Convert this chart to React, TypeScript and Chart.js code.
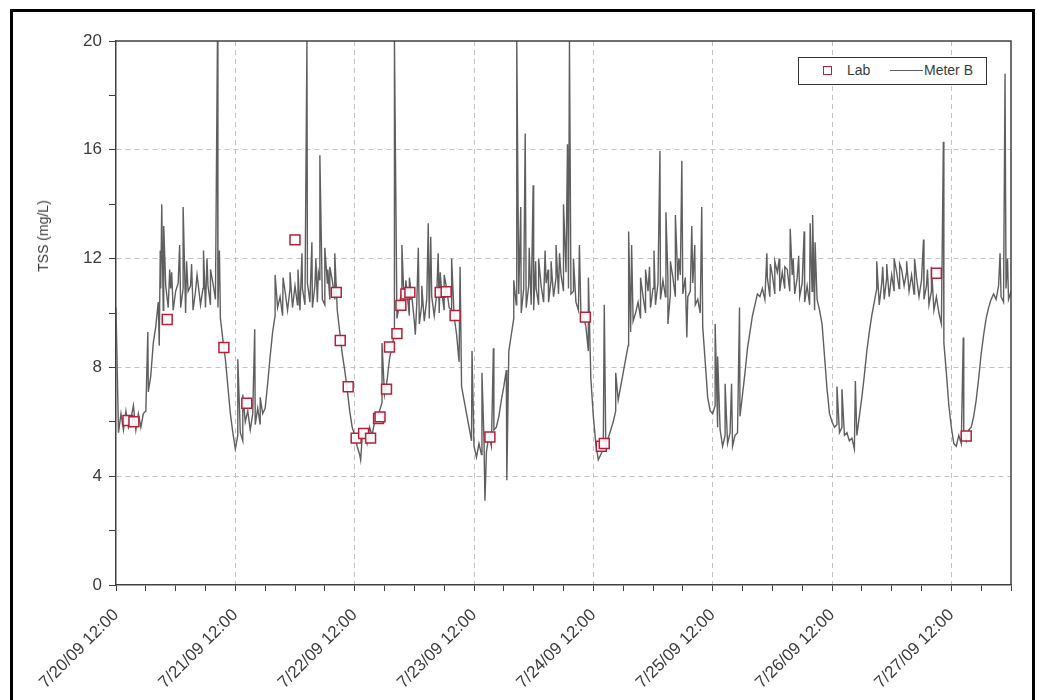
import React, { useEffect, useRef } from 'react';
import { Chart, registerables } from 'chart.js';

Chart.register(...registerables);

// X axis: hours since 7/20/09 12:00
const xTickLabels = [
  '7/20/09 12:00', '7/21/09 12:00', '7/22/09 12:00', '7/23/09 12:00',
  '7/24/09 12:00', '7/25/09 12:00', '7/26/09 12:00', '7/27/09 12:00',
];
const yTickLabels = ['0', '4', '8', '12', '16', '20'];

// Meter B readings every 30 minutes, one array per day (from 12:00)
const meterStepHours = 0.5;
const meterDay1 = [
  10.2, 5.6, 6.3, 5.7, 6.4, 5.8, 6.1, 6.6, 5.7, 6.3, 5.8, 6.3,
  6.4, 7.1, 7.7, 8.9, 9.5, 10.4,
  10.9, 10.1, 11.0, 10.2, 10.9, 10.1, 10.8, 11.1, 10.2, 10.9, 10.0, 10.8,
  11.0, 10.1, 10.8, 11.1, 10.3, 10.9, 10.2, 11.0, 10.3, 11.1, 10.5, 10.2,
  9.8, 9.0, 8.3, 7.3, 6.3, 5.6,
];
const meterDay2 = [
  5.0, 5.5, 5.6, 5.3, 6.0, 6.4, 5.7, 6.3, 5.9, 6.5, 5.9, 6.3,
  6.5, 7.4, 8.4, 9.3, 9.9, 10.2,
  10.6, 9.9, 10.8, 10.1, 10.9, 10.2, 11.0, 10.3, 10.1, 10.9, 10.3, 11.1,
  10.4, 10.2, 11.0, 10.4, 11.2, 10.5, 10.3, 11.1, 10.5, 11.2, 10.5, 10.1,
  9.3, 8.5, 7.9, 7.2, 6.4, 5.8,
];
const meterDay3 = [
  5.5, 5.1, 4.8, 5.4, 5.6, 5.2, 5.8, 5.5, 6.0, 6.1,
  6.4, 6.7, 7.0, 7.5, 8.3, 8.8, 9.2, 9.8, 10.3,
  10.9, 10.1, 10.8, 9.9, 10.6, 9.7, 10.4, 9.6, 10.3, 9.7, 10.5, 9.8,
  10.6, 9.9, 10.7, 10.0, 10.8, 10.1, 10.9, 10.2, 10.1,
  9.9, 9.2, 8.2, 7.3, 6.8, 6.3, 5.8, 5.3,
];
const meterDay4 = [
  5.1, 4.7, 5.2, 4.8, 5.4, 4.9, 5.5, 5.1, 5.7, 5.8,
  6.2, 6.8, 7.3, 7.9, 8.6, 9.2, 9.8, 10.3,
  10.7, 10.0, 10.9, 10.2, 11.0, 10.3, 10.1, 10.9, 10.3, 11.0, 10.4, 11.1,
  10.4, 11.2, 10.6, 11.3, 10.7, 11.4, 10.8, 11.5, 10.9, 10.7, 10.8,
  10.4, 10.1, 10.0, 9.9, 9.5, 8.6, 7.6,
];
const meterDay5 = [
  6.2, 5.2, 4.6, 4.8, 5.0, 5.2, 5.4, 5.7,
  6.0, 6.4, 6.8, 7.3, 7.8, 8.3, 8.8, 9.3, 9.7, 10.0,
  10.4, 9.8, 10.6, 10.0, 10.8, 10.2, 10.9, 10.3, 11.1, 10.5,
  11.2, 10.6, 11.3, 10.7, 11.3, 10.6, 11.2, 11.4, 10.7, 11.3,
  10.6, 10.8, 11.1, 10.3, 10.5, 10.0,
  9.5, 8.2, 6.9, 6.4,
];
const meterDay6 = [
  6.3, 6.6, 5.8, 5.7, 5.1, 5.5, 5.2, 5.6, 5.1, 5.5, 5.6, 6.2,
  7.0, 7.8, 8.7, 9.3, 9.9, 10.3,
  10.7, 10.6, 10.9, 10.5, 11.3, 10.6, 11.4, 10.7, 11.5, 10.8,
  11.5, 10.9, 11.6, 10.8, 11.4, 10.7, 11.3, 10.6, 11.1, 10.4,
  11.0, 10.3, 10.8, 10.1, 10.5,
  10.1, 9.6, 8.4, 7.2, 6.3,
];
const meterDay7 = [
  6.0, 5.8, 5.9, 5.6, 5.8, 5.5, 5.6, 5.3, 5.4, 5.0, 5.5, 6.2,
  6.9, 7.7, 8.6, 9.3, 9.9, 10.4,
  10.9, 10.3, 11.1, 10.5, 11.3, 10.6, 11.4, 10.8, 11.5, 10.9,
  11.6, 11.0, 11.5, 10.8, 11.4, 10.7, 11.3, 10.6, 11.2, 10.5,
  11.0, 10.3, 10.8, 10.1, 10.6, 10.0,
  9.6, 8.9, 7.8, 6.6,
];
const meterDay8 = [
  5.8, 5.2, 5.1, 5.5, 5.2, 5.7, 5.3, 5.7, 5.8, 6.2,
  6.8, 7.6, 8.5, 9.2, 9.8, 10.2, 10.5, 10.7,
  10.5, 11.0, 10.6, 10.4, 10.9, 10.5, 10.8,
];

// Short spikes in the Meter B record
const spikeHours = [
  6.4, 8.7, 8.9, 9.2, 9.6, 10.8, 11.2, 12.8, 13.5, 14.2, 15.2, 16.3, 17.6,
  18.3, 19.0, 20.4, 20.8,
  24.5, 25.5, 27.9, 29.0,
  32.0, 33.6, 35.0, 36.6, 37.4, 38.4, 39.4, 40.2, 40.7, 41.0, 42.0, 42.6,
  43.0, 44.0,
  49.2, 53.5, 56.0, 57.5, 58.3, 59.0, 60.2, 60.8, 61.5, 62.8, 63.3, 64.8,
  65.2, 66.0, 67.5, 69.2,
  71.6, 73.6, 74.2, 75.9, 78.6,
  80.0, 80.6, 81.4, 82.3, 83.1, 83.9, 84.4, 85.0, 86.3, 86.9, 87.5, 88.5,
  89.2, 90.0, 90.8, 91.2, 92.0, 93.2, 95.0, 98.2, 100.5,
  103.1, 103.7, 105.5, 106.5, 107.3, 108.2, 109.4, 110.6, 111.0, 111.5,
  112.5, 113.2, 113.8, 114.8, 115.8, 116.4, 117.8,
  120.5, 121.0, 122.5, 123.8, 125.4,
  130.9, 131.6, 132.5, 133.4, 134.5, 135.6, 136.2, 137.3, 138.4, 139.6,
  140.1, 140.6,
  145.0, 146.0, 148.7,
  153.0, 154.2, 155.0, 156.5, 157.6, 159.0, 160.6, 162.4, 163.2, 164.0,
  166.4, 170.4, 177.8, 178.8, 179.3,
];
const spikeValues = [
  9.3, 8.8, 12.3, 14.0, 13.2, 11.6, 11.5, 12.5, 13.9, 11.9, 11.8, 11.4, 12.3,
  12.0, 11.6, 20, 12.3,
  8.3, 7.0, 9.4, 6.9,
  11.4, 11.3, 11.5, 11.6, 12.2, 20, 12.6, 12.0, 11.5, 15.8, 12.4, 11.6,
  11.7, 12.2,
  4.6, 8.9, 20, 12.5, 11.2, 11.3, 9.2, 12.4, 11.0, 13.3, 12.8, 12.2,
  11.5, 11.4, 12.0, 11.7,
  8.6, 7.8, 3.1, 8.7, 3.85,
  11.2, 20, 13.9, 16.6, 12.4, 14.7, 11.9, 12.0, 12.3, 11.6, 11.9, 12.5,
  12.2, 14.0, 16.2, 20, 12.0, 12.5, 11.3, 10.3, 7.8,
  13.0, 12.5, 11.3, 11.6, 11.7, 12.3, 15.96, 13.7, 9.6, 11.9,
  13.6, 12.0, 15.6, 9.1, 13.2, 12.5, 13.9,
  9.6, 8.4, 7.4, 7.4, 10.2,
  12.2, 11.8, 11.9, 12.0, 11.7, 13.1, 12.0, 12.1, 13.0, 13.3,
  13.6, 12.6,
  7.3, 7.2, 7.5,
  11.9, 11.7, 11.8, 12.0, 11.8, 11.9, 12.0, 12.7, 11.6, 11.7,
  16.3, 9.1, 12.2, 18.8, 12.0,
];

// Lab samples
const labHours = [
  2.4, 3.6, 10.3, 21.7, 26.3, 36.0, 44.3, 45.1, 46.7, 48.3, 49.8, 51.2,
  52.8, 53.1, 54.4, 55.0, 56.5, 57.3, 58.3, 59.1, 65.2, 66.4, 68.2, 75.2,
  94.4, 97.6, 98.2, 165.0, 171.0,
];
const labValues = [
  6.05, 6.0, 9.76, 8.73, 6.68, 12.69, 10.76, 8.99, 7.29, 5.4, 5.57, 5.4,
  6.12, 6.18, 7.2, 8.75, 9.24, 10.28, 10.7, 10.76, 10.76, 10.78, 9.91, 5.44,
  9.85, 5.1, 5.2, 11.46, 5.48,
];

const FONT = "'Liberation Sans', Arial, Helvetica, sans-serif";
const TEXT = '#3c3c3c';
const GRID = '#c2c2c2';
const AXIS = '#404040';
const LAB_COLOR = '#b3203a';
const METER_COLOR = '#5f5f5f';

export default function App() {
  const canvasRef = useRef<HTMLCanvasElement | null>(null);

  useEffect(() => {
    const canvas = canvasRef.current;
    if (!canvas) return;

    const base = [
      ...meterDay1, ...meterDay2, ...meterDay3, ...meterDay4,
      ...meterDay5, ...meterDay6, ...meterDay7, ...meterDay8,
    ].map((v, i) => ({ x: i * meterStepHours, y: v }));
    const spikes = spikeHours.map((h, i) => ({ x: h, y: spikeValues[i] }));
    const meter = [...base, ...spikes].sort((a, b) => a.x - b.x);
    const lab = labHours.map((h, i) => ({ x: h, y: labValues[i] }));

    const framePlugin = {
      id: 'frame',
      afterDraw(chart: any) {
        const { ctx, chartArea } = chart;
        ctx.save();
        ctx.strokeStyle = AXIS;
        ctx.lineWidth = 1.5;
        ctx.beginPath();
        ctx.moveTo(chartArea.left, chartArea.top);
        ctx.lineTo(chartArea.right, chartArea.top);
        ctx.lineTo(chartArea.right, chartArea.bottom);
        ctx.stroke();
        ctx.restore();
      },
    };

    const chart = new Chart(canvas, {
      type: 'scatter',
      data: {
        datasets: [
          {
            label: 'Lab',
            data: lab,
            pointStyle: 'rect',
            pointRadius: 7,
            pointBorderWidth: 1.5,
            borderColor: LAB_COLOR,
            backgroundColor: 'rgba(255,255,255,0.9)',
            showLine: false,
          },
          {
            label: 'Meter B',
            data: meter,
            showLine: true,
            pointRadius: 0,
            borderColor: METER_COLOR,
            borderWidth: 1.4,
            tension: 0,
          },
        ],
      },
      options: {
        animation: false,
        responsive: false,
        events: [],
        layout: { padding: { left: 0, top: 41, right: 26, bottom: 0 } },
        plugins: {
          legend: { display: false },
          tooltip: { enabled: false },
          title: { display: false },
        },
        scales: {
          x: {
            type: 'linear',
            min: 0,
            max: 180,
            afterFit(scale: any) {
              scale.height = 115;
              scale.paddingLeft = 0;
              scale.paddingRight = 0;
            },
            border: { color: AXIS, width: 1.5, dash: [5, 4] },
            grid: {
              color: (c: any) =>
                c.tick && c.tick.value % 24 === 0 && c.tick.value > 0 && c.tick.value < 180
                  ? GRID
                  : 'rgba(0,0,0,0)',
              tickColor: AXIS,
              tickLength: 6,
              lineWidth: 1,
            },
            ticks: {
              stepSize: 6,
              autoSkip: false,
              maxRotation: 45,
              minRotation: 45,
              padding: 14,
              color: TEXT,
              font: { family: FONT, size: 17 },
              callback: (v: any) => (Number(v) % 24 === 0 ? xTickLabels[Number(v) / 24] ?? '' : ''),
            },
          },
          y: {
            type: 'linear',
            min: 0,
            max: 20,
            afterFit(scale: any) {
              scale.width = 116;
              scale.paddingTop = 0;
              scale.paddingBottom = 0;
            },
            border: { color: AXIS, width: 1.5, dash: [5, 4] },
            grid: {
              color: (c: any) =>
                c.tick && c.tick.value % 4 === 0 && c.tick.value > 0 && c.tick.value < 20
                  ? GRID
                  : 'rgba(0,0,0,0)',
              tickColor: AXIS,
              tickLength: 7,
              lineWidth: 1,
            },
            ticks: {
              stepSize: 2,
              padding: 7,
              color: TEXT,
              font: { family: FONT, size: 17 },
              callback: (v: any) => (Number(v) % 4 === 0 ? yTickLabels[Number(v) / 4] : ''),
            },
          },
        },
      },
      plugins: [framePlugin],
    } as any);

    return () => chart.destroy();
  }, []);

  return (
    <div style={{ position: 'fixed', left: 0, top: 0, width: 1037, height: 700, overflow: 'hidden', background: '#fff' }}>
      <div
        style={{
          position: 'absolute', left: 10, top: 9, width: 1025, height: 800,
          border: '3px solid #000', boxSizing: 'border-box',
        }}
      />
      <canvas
        ref={canvasRef}
        width={1037}
        height={700}
        style={{ position: 'absolute', left: 0, top: 0, display: 'block' }}
      />
      <div
        style={{
          position: 'absolute', left: 43, top: 236,
          transform: 'translate(-50%, -50%) rotate(-90deg)',
          fontFamily: FONT, fontSize: 14, color: TEXT, whiteSpace: 'nowrap',
        }}
      >
        TSS (mg/L)
      </div>
      <div
        style={{
          position: 'absolute', left: 798, top: 57, width: 189, height: 28,
          border: '1.5px solid #333', boxSizing: 'border-box', background: '#fff',
          fontFamily: FONT, fontSize: 14, color: TEXT,
        }}
      >
        <div
          style={{
            position: 'absolute', left: 24, top: 8, width: 9, height: 9,
            border: `1.5px solid ${LAB_COLOR}`, boxSizing: 'border-box',
          }}
        />
        <div style={{ position: 'absolute', left: 48, top: 4, lineHeight: '16px' }}>Lab</div>
        <div style={{ position: 'absolute', left: 91, top: 12, width: 33, height: 1, background: METER_COLOR }} />
        <div style={{ position: 'absolute', left: 125, top: 4, lineHeight: '16px' }}>Meter B</div>
      </div>
    </div>
  );
}
